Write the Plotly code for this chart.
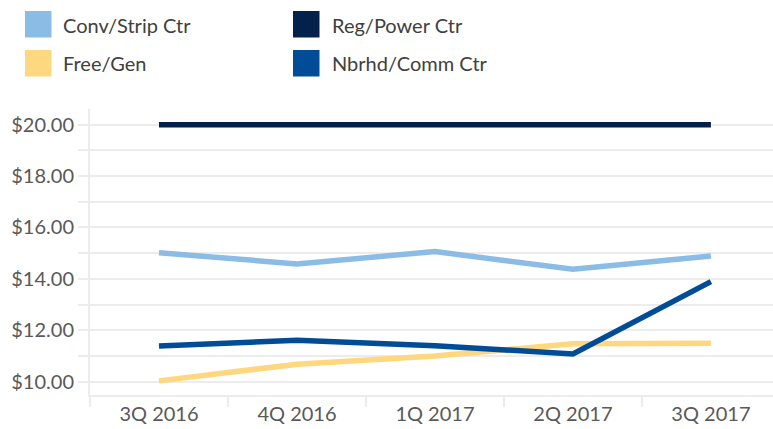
import plotly.graph_objects as go

quarters = ["3Q 2016", "4Q 2016", "1Q 2017", "2Q 2017", "3Q 2017"]
conv_strip = [15.02, 14.58, 15.06, 14.37, 14.89]
reg_power = [20.0, 20.0, 20.0, 20.0, 20.0]
free_gen = [10.03, 10.68, 11.0, 11.47, 11.49]
nbrhd_comm = [11.39, 11.61, 11.40, 11.08, 13.89]

series_names = ["Conv/Strip Ctr", "Reg/Power Ctr", "Free/Gen", "Nbrhd/Comm Ctr"]
series_colors = ["#8BBCE5", "#03214A", "#FFD77F", "#014C97"]
series_values = [conv_strip, reg_power, free_gen, nbrhd_comm]
y_tickvals = [10, 12, 14, 16, 18, 20]
y_ticktext = ["$10.00", "$12.00", "$14.00", "$16.00", "$18.00", "$20.00"]

W, H = 773, 429
ML, MR, MT, MB = 90, 0, 109, 34
PW, PH = W - ML - MR, H - MT - MB
FONT = "Lato"
GRID = "#ECECEC"

fig = go.Figure()
for idx in [0, 2, 3, 1]:
    fig.add_trace(go.Scatter(
        x=quarters, y=series_values[idx], mode="lines", name=series_names[idx],
        line=dict(color=series_colors[idx], width=5.5), showlegend=False,
        hoverinfo="skip"))

def px(x):
    return (x - ML) / PW

def py(y):
    return (H - MB - y) / PH

shapes = []
annotations = []
legend_pos = [(25, 11, 61), (293, 11, 330), (25, 50, 61), (293, 50, 330)]
for i, (sx, sy, tx) in enumerate(legend_pos):
    shapes.append(dict(type="rect", xref="paper", yref="paper",
                       x0=px(sx), x1=px(sx + 26.5), y0=py(sy + 26.5), y1=py(sy),
                       fillcolor=series_colors[i], line=dict(width=0)))
    annotations.append(dict(xref="paper", yref="paper", x=px(tx), y=py(sy + 13.5),
                            xanchor="left", yanchor="middle", showarrow=False,
                            text=series_names[i],
                            font=dict(family=FONT, size=20, color="#404040")))

fig.update_layout(
    width=W, height=H,
    margin=dict(l=ML, r=MR, t=MT, b=MB, pad=0, autoexpand=False),
    paper_bgcolor="white", plot_bgcolor="white",
    shapes=shapes, annotations=annotations,
    xaxis=dict(
        type="category", range=[-0.5, 4.45], automargin=False,
        showgrid=False, showline=True, linecolor=GRID, linewidth=2,
        ticks="outside", tickson="boundaries", ticklen=10, tickcolor=GRID, tickwidth=2,
        tickfont=dict(family=FONT, size=20, color="#595959"),
        zeroline=False, fixedrange=True),
    yaxis=dict(
        range=[9.48, 20.61], automargin=False,
        tickvals=y_tickvals, ticktext=y_ticktext,
        showgrid=True, gridcolor=GRID, gridwidth=2,
        showline=True, linecolor=GRID, linewidth=2,
        ticks="outside", ticklen=10, tickcolor=GRID, tickwidth=2,
        minor=dict(dtick=1, tick0=0, showgrid=True, gridcolor=GRID, gridwidth=2,
                   ticks="outside", ticklen=10, tickcolor=GRID, tickwidth=2),
        tickfont=dict(family=FONT, size=20, color="#595959"),
        zeroline=False, fixedrange=True),
)

fig.write_html("out.html", config={"displayModeBar": False},
               post_script="document.body.style.margin='0';document.body.style.overflow='hidden';")
